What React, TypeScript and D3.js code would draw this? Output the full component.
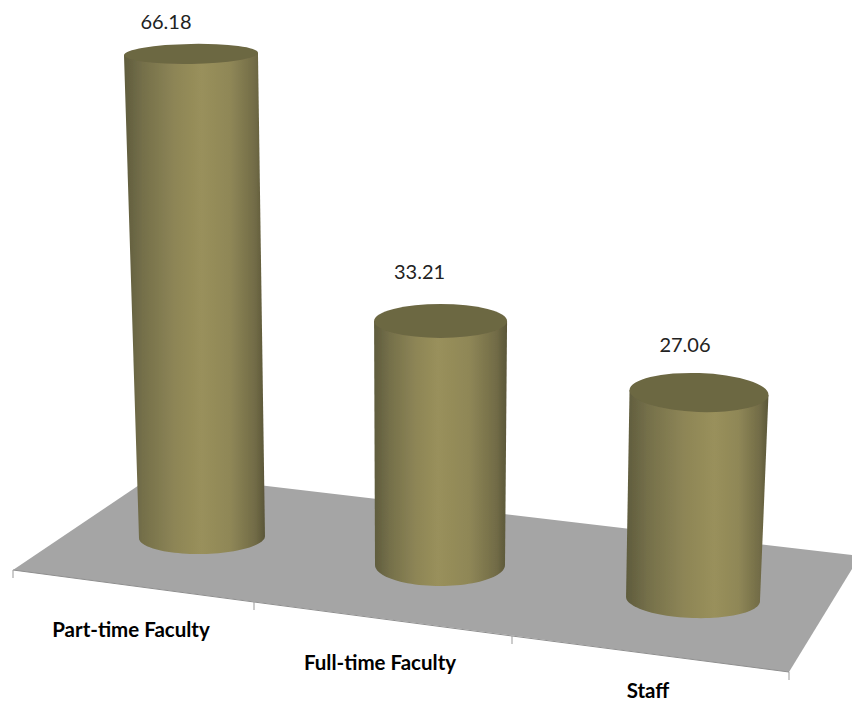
import * as d3 from 'd3';

const categories = ['Part-time Faculty', 'Full-time Faculty', 'Staff'];
const values = [66.18, 33.21, 27.06];

const width = 852;
const height = 702;
const idx = [0, 1, 2];

// perspective makes the nearer columns taller per unit, so one scale per column slot
const pxPerUnit = d3.scaleLinear().domain(idx).range([7.3, 7.35, 7.63]);
const baseX = d3.scaleLinear().domain(idx).range([202, 440, 693]);
const baseY = d3.scaleLinear().domain(idx).range([537, 565, 599]);
const baseRx = d3.scaleLinear().domain(idx).range([63, 65, 67]);
const baseRy = d3.scaleLinear().domain(idx).range([17, 21, 19]);
const topRx = d3.scaleLinear().domain(idx).range([67, 66.5, 69.5]);
const topRy = d3.scaleLinear().domain(idx).range([10, 17, 19.5]);
const tilt = d3.scaleLinear().domain(idx).range([-1, 0, 2]);
const highlight = d3.scaleLinear().domain(idx).range([0.55, 0.48, 0.62]);

// front edge of the floor, split at the category boundaries
const edgeX = d3.scaleLinear().domain([0, 1, 2, 3]).range([13, 254, 512, 789]);
const edgeY = d3.scaleLinear().domain([0, 1, 2, 3]).range([570, 602, 636, 672]);

const vanishX = 418;
const lean = 1.056e-4;

const floor: [number, number][] = [
  [13, 570],
  [157, 473],
  [860, 556],
  [789, 672],
];

const labelPos = [
  { x: 131, y: 637 },
  { x: 380, y: 670 },
  { x: 648, y: 698 },
];
const valueLabelPos = [
  { dx: -25, dy: 15 },
  { dx: -21, dy: 25 },
  { dx: -14, dy: 21 },
];

function ellipsePoint(cx: number, cy: number, rx: number, ry: number, deg: number, t: number): [number, number] {
  const r = (deg * Math.PI) / 180;
  const ex = rx * Math.cos(t);
  const ey = ry * Math.sin(t);
  return [cx + ex * Math.cos(r) - ey * Math.sin(r), cy + ex * Math.sin(r) + ey * Math.cos(r)];
}

export default function App() {
  const line = d3.line();
  const floorPath = line(floor) + 'Z';

  const columns = values.map((v, i) => {
    const h = v * pxPerUnit(i);
    const bx = baseX(i);
    const by = baseY(i);
    const tx = bx + (bx - vanishX) * lean * h;
    const ty = by - h;
    const angle = tilt(i);
    const ts = d3.range(0, Math.PI + 0.01, Math.PI / 48);
    const front = ts.map((t) => ellipsePoint(bx, by, baseRx(i), baseRy(i), angle, t));
    // side wall runs down the right of the top ellipse, around the base, back up the left
    const leftTop = ellipsePoint(tx, ty, topRx(i), topRy(i), angle, Math.PI);
    const rightTop = ellipsePoint(tx, ty, topRx(i), topRy(i), angle, 0);
    const body = line([rightTop, ...front, leftTop]) + 'Z';
    return { body, tx, ty, ry: topRy(i), rx: topRx(i), angle, v };
  });

  return (
    <svg
      width={width}
      height={height}
      style={{ position: 'absolute', left: 0, top: 0, display: 'block', background: '#fff' }}
    >
      <defs>
        {idx.map((i) => {
          const p = highlight(i);
          return (
            <linearGradient key={i} id={`wall${i}`} x1="0" x2="1" y1="0" y2="0">
              <stop offset="0" stopColor="#5f5c3d" />
              <stop offset={p * 0.25} stopColor="#75704a" />
              <stop offset={p * 0.65} stopColor="#8d8556" />
              <stop offset={p} stopColor="#99905b" />
              <stop offset={p + (1 - p) * 0.45} stopColor="#8f8757" />
              <stop offset={p + (1 - p) * 0.85} stopColor="#716b46" />
              <stop offset="1" stopColor="#5a5638" />
            </linearGradient>
          );
        })}
        <filter id="soft" x="-5%" y="-5%" width="110%" height="110%">
          <feGaussianBlur stdDeviation="0.5" />
        </filter>
      </defs>

      <path d={floorPath} fill="#a5a5a5" />
      <path d={line(d3.range(4).map((i) => [edgeX(i), edgeY(i)] as [number, number])) ?? ''} fill="none" stroke="#8e8e8e" strokeWidth={1} />
      {d3.range(4).map((i) => (
        <line key={i} x1={edgeX(i)} x2={edgeX(i)} y1={edgeY(i)} y2={edgeY(i) + 8} stroke="#999" strokeWidth={1} />
      ))}

      {columns.map((c, i) => (
        <g key={categories[i]}>
          <g filter="url(#soft)">
            <path d={c.body} fill={`url(#wall${i})`} />
            <ellipse
              cx={c.tx}
              cy={c.ty}
              rx={c.rx}
              ry={c.ry}
              transform={`rotate(${c.angle} ${c.tx} ${c.ty})`}
              fill="#6c6743"
            />
          </g>
          <text
            x={c.tx + valueLabelPos[i].dx}
            y={c.ty - c.ry - valueLabelPos[i].dy}
            textAnchor="middle"
            fontFamily="Lato, 'Open Sans', sans-serif"
            fontSize={20}
            fill="#222"
          >
            {c.v.toFixed(2)}
          </text>
        </g>
      ))}

      {categories.map((name, i) => (
        <text
          key={name}
          x={labelPos[i].x}
          y={labelPos[i].y}
          textAnchor="middle"
          fontFamily="Lato, 'Open Sans', sans-serif"
          fontWeight={700}
          fontSize={20.5}
          fill="#000"
        >
          {name}
        </text>
      ))}
    </svg>
  );
}
